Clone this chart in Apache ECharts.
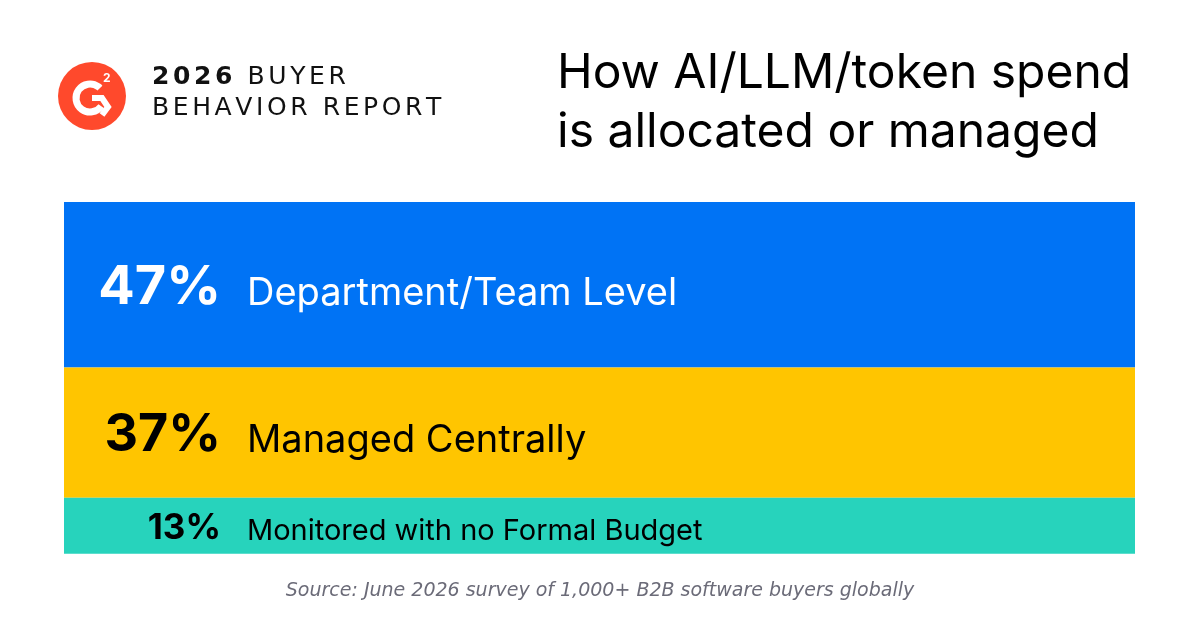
<!DOCTYPE html>
<html>
<head>
<meta charset="utf-8">
<script src="https://cdn.jsdelivr.net/npm/echarts@6/dist/echarts.min.js"></script>
<style>
  html, body { margin: 0; padding: 0; background: #fff; }
  #chart { width: 1200px; height: 630px; }
</style>
</head>
<body>
<div id="chart"></div>
<script>
// data
var shares = [47, 37, 13];
var shareNames = ['Department/Team Level', 'Managed Centrally', 'Monitored with no Formal Budget'];
var bandColors = ['#0073F5', '#FFC500', '#27D3BC'];

var FONT = 'Inter, "Noto Sans", sans-serif';

// label look per band: percent size, name size, text colour
var labelLook = [
  { pct: 54, name: 38, color: '#ffffff' },
  { pct: 52, name: 38, color: '#000000' },
  { pct: 35, name: 29, color: '#000000' }
];
var MIN_BAND_PX = 56;   // small bands are drawn at least this tall

// start/end of each band along the value axis
var bands = [];
var acc = 0;
shares.forEach(function (v, i) {
  bands.push([acc, acc + v, i]);
  acc += v;
});

// letter-spaced text, one graphic element per character
var measureCtx = document.createElement('canvas').getContext('2d');
function tracked(str, x, y, font, spacing, fill, out) {
  measureCtx.font = font;
  var cx = x;
  for (var k = 0; k < str.length; k++) {
    var ch = str.charAt(k);
    if (ch !== ' ') {
      out.push({ type: 'text', x: cx, y: y, style: { text: ch, font: font, fill: fill } });
    }
    cx += measureCtx.measureText(ch).width + spacing;
  }
  return cx;
}

function renderBand(params, api) {
  var i = api.value(2);
  var look = labelLook[i];
  var p0 = api.coord([0, api.value(0)]);
  var p1 = api.coord([1, api.value(1)]);
  var h = Math.max(p1[1] - p0[1], MIN_BAND_PX);
  var cy = p0[1] + h / 2 + 3;
  var nameY = cy + 0.364 * (look.pct - look.name);
  return {
    type: 'group',
    children: [
      {
        type: 'rect',
        shape: { x: p0[0], y: p0[1], width: p1[0] - p0[0], height: h },
        style: { fill: bandColors[i] }
      },
      {
        type: 'text', x: 221, y: cy,
        style: {
          text: shares[i] + '%', fill: look.color,
          font: 'bold ' + look.pct + 'px ' + FONT,
          align: 'right', verticalAlign: 'middle'
        }
      },
      {
        type: 'text', x: 247, y: nameY,
        style: {
          text: shareNames[i], fill: look.color,
          font: look.name + 'px ' + FONT,
          align: 'left', verticalAlign: 'middle'
        }
      }
    ]
  };
}

var header = [];
var hx = tracked('2026', 152, 65, 'bold 25px "DejaVu Sans"', 3.6, '#111', header);
tracked(' BUYER', hx, 65, '25px "DejaVu Sans"', 3.6, '#111', header);
tracked('BEHAVIOR REPORT', 152, 96, '25px "DejaVu Sans"', 3.6, '#111', header);

var chart = echarts.init(document.getElementById('chart'));

chart.setOption({
  animation: false,
  backgroundColor: '#ffffff',
  grid: { left: 64, right: 65, top: 202, height: 341.4 },
  xAxis: { type: 'value', min: 0, max: 1, show: false },
  yAxis: { type: 'value', inverse: true, min: 0, max: 97, show: false },
  series: [{
    type: 'custom',
    silent: true,
    data: bands,
    renderItem: renderBand
  }],
  graphic: [
    // G2 logo
    { type: 'circle', shape: { cx: 92, cy: 96, r: 34 }, style: { fill: '#FF492C' } },
    {
      type: 'arc',
      shape: { cx: 90, cy: 98, r: 14, startAngle: Math.PI * 0.2, endAngle: Math.PI * 1.75, clockwise: true },
      style: { stroke: '#fff', lineWidth: 7, fill: null }
    },
    {
      type: 'polyline',
      shape: { points: [[92, 98], [102, 98], [108, 107], [102, 115]] },
      style: { stroke: '#fff', lineWidth: 6, fill: null, lineJoin: 'miter' }
    },
    {
      type: 'text', x: 103, y: 72,
      style: { text: '2', fill: '#fff', font: 'bold 12px ' + FONT }
    },
    // title
    {
      type: 'text', x: 557, y: 44,
      style: {
        text: 'How AI/LLM/token spend\nis allocated or managed',
        fill: '#000', font: '48px ' + FONT, lineHeight: 59
      }
    },
    // source note
    {
      type: 'text', x: 600, y: 591,
      style: {
        text: 'Source: June 2026 survey of 1,000+ B2B software buyers globally',
        fill: '#6b6b78', font: 'italic 19px "DejaVu Sans"', align: 'center', verticalAlign: 'middle'
      }
    }
  ].concat(header)
});
</script>
</body>
</html>
